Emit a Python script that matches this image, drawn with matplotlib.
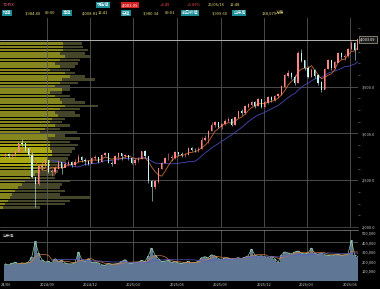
import matplotlib
matplotlib.use('Agg')
import matplotlib.pyplot as plt
import matplotlib.dates as mdates
import matplotlib.transforms as mtrans
from matplotlib.ticker import FixedLocator, MultipleLocator, FuncFormatter
import numpy as np
import pandas as pd

plt.rcParams['font.family'] = ['Noto Sans CJK JP', 'DejaVu Sans']

# ---------------- data (weekly) ----------------
week_start = '2024-06-05'
closes = [2776, 2758, 2764, 2809, 2896, 2894, 2840, 2769, 2537, 2465,
          2645, 2660, 2712, 2589, 2594, 2627, 2690, 2636, 2674, 2692,
          2669, 2692, 2745, 2714, 2704, 2680, 2737, 2746, 2701, 2768,
          2784, 2687, 2679, 2753, 2788, 2758, 2765, 2735, 2682, 2714,
          2730, 2806, 2758, 2490, 2427, 2486, 2627, 2686, 2740, 2740,
          2741, 2801, 2779, 2770, 2771, 2840, 2825, 2822, 2834, 2927,
          2948, 3025, 3090, 3117, 3074, 3100, 3135, 3149, 3096, 3170,
          3234, 3220, 3287, 3310, 3330, 3300, 3362, 3287, 3330, 3383,
          3360, 3400, 3415, 3500, 3620, 3649, 3606, 3543, 3862, 3780,
          3700, 3606, 3680, 3620, 3543, 3468, 3690, 3787, 3700, 3760,
          3862, 3820, 3830, 3900, 3968, 3894, 4003]
highs = [2795, 2790, 2785, 2815, 2900, 2936, 2895, 2840, 2800, 2480,
         2660, 2695, 2725, 2720, 2615, 2655, 2715, 2685, 2700, 2720,
         2705, 2730, 2780, 2760, 2735, 2720, 2750, 2770, 2750, 2780,
         2805, 2790, 2705, 2770, 2800, 2795, 2780, 2770, 2740, 2740,
         2745, 2815, 2820, 2745, 2500, 2505, 2635, 2695, 2745, 2790,
         2765, 2810, 2805, 2800, 2790, 2850, 2860, 2840, 2855, 2960,
         2980, 3035, 3120, 3135, 3120, 3115, 3150, 3175, 3160, 3180,
         3245, 3260, 3300, 3330, 3350, 3345, 3375, 3370, 3345, 3395,
         3400, 3415, 3435, 3515, 3640, 3680, 3660, 3620, 3880, 3900,
         3790, 3720, 3700, 3690, 3640, 3560, 3700, 3800, 3790, 3775,
         3875, 3870, 3850, 3915, 3985, 3975, 4009]
lows = [2740, 2735, 2725, 2760, 2800, 2870, 2810, 2735, 2520, 2215,
        2450, 2610, 2630, 2575, 2545, 2565, 2620, 2570, 2640, 2655,
        2640, 2655, 2690, 2690, 2665, 2660, 2685, 2720, 2680, 2700,
        2760, 2680, 2650, 2685, 2720, 2720, 2740, 2720, 2670, 2660,
        2690, 2730, 2740, 2470, 2280, 2410, 2470, 2620, 2680, 2720,
        2710, 2730, 2760, 2750, 2750, 2770, 2810, 2800, 2800, 2830,
        2920, 2900, 3030, 3070, 3060, 3050, 3090, 3120, 3080, 3090,
        3160, 3200, 3210, 3270, 3290, 3270, 3290, 3270, 3280, 3320,
        3340, 3350, 3380, 3410, 3500, 3600, 3580, 3520, 3540, 3760,
        3680, 3590, 3600, 3590, 3520, 3440, 3470, 3690, 3680, 3690,
        3760, 3800, 3790, 3820, 3890, 3780, 3890]
first_open = 2770
volumes = [175000, 165000, 180000, 190000, 175000, 185000, 180000, 195000, 250000, 410000,
           290000, 220000, 195000, 200000, 185000, 230000, 200000, 210000, 185000, 175000,
           175000, 190000, 300000, 220000, 200000, 230000, 190000, 195000, 185000, 165000,
           160000, 180000, 170000, 175000, 180000, 200000, 220000, 185000, 180000, 190000,
           195000, 210000, 200000, 260000, 340000, 270000, 230000, 200000, 205000, 210000,
           190000, 200000, 185000, 180000, 190000, 200000, 185000, 190000, 200000, 240000,
           250000, 240000, 270000, 260000, 230000, 220000, 240000, 235000, 225000, 230000,
           240000, 230000, 245000, 260000, 330000, 270000, 255000, 260000, 250000, 240000,
           255000, 230000, 190000, 270000, 300000, 290000, 280000, 300000, 310000, 290000,
           280000, 290000, 340000, 285000, 275000, 290000, 270000, 265000, 260000, 270000,
           275000, 265000, 270000, 280000, 420000, 270000, 250000]

# volume profile (price bins, bright part length, total length in px)
profile_prices = [3960, 3925, 3890, 3855, 3820, 3785, 3750, 3715, 3680, 3645,
                  3610, 3575, 3540, 3505, 3470, 3435, 3400, 3365, 3330, 3295,
                  3260, 3225, 3190, 3155, 3120, 3085, 3050, 3015, 2980, 2945,
                  2910, 2875, 2840, 2805, 2770, 2735, 2700, 2665, 2630, 2595,
                  2560, 2525, 2490, 2455, 2420, 2385, 2350, 2315, 2280, 2245, 2210]
profile_bright = [63, 63, 63, 60, 65, 60, 55, 60, 50, 65,
                  70, 62, 60, 55, 62, 50, 55, 60, 62, 65,
                  60, 55, 58, 52, 50, 55, 45, 40, 55, 48,
                  50, 50, 50, 52, 52, 48, 50, 50, 45, 40,
                  35, 30, 25, 22, 18, 15, 12, 10, 8, 5, 3]
profile_total = [82, 83, 88, 85, 90, 80, 78, 75, 70, 75,
                 85, 95, 78, 70, 70, 62, 70, 75, 85, 98,
                 80, 75, 80, 65, 62, 70, 60, 77, 65, 80,
                 70, 78, 75, 72, 70, 68, 66, 62, 60, 58,
                 55, 55, 70, 62, 60, 65, 60, 90, 70, 65, 40]

quarter_dates = ['2024-06-01', '2024-09-01', '2024-12-01', '2025-03-01', '2025-06-01',
                 '2025-09-01', '2025-12-01', '2026-03-01', '2026-06-01']
quarter_labels = ['24/06', '2024/09', '2024/12', '2025/03', '2025/06',
                  '2025/09', '2025/12', '2026/03', '2026/06']
price_ticks = [2000, 2500, 3000, 3500]
volume_ticks = [100000, 200000, 300000, 400000, 500000]
last_price = 4003.09

# ---------------- figure ----------------
W, H = 380, 289
fig = plt.figure(figsize=(W / 100, H / 100), dpi=100, facecolor='black')

def fx(px):
    return px / W

def fy(py):
    return 1 - py / H

ax = fig.add_axes([0, fy(227), fx(358), fy(18) - fy(227)])
axv = fig.add_axes([0, fy(280.5), fx(358), fy(230) - fy(280.5)], sharex=ax)
ax.patch.set_visible(False)
axv.set_facecolor('black')

dates = pd.date_range(week_start, periods=len(closes), freq='7D')
x = mdates.date2num(dates)
c = np.array(closes, float)
h = np.array(highs, float)
l = np.array(lows, float)
o = np.r_[first_open, c[:-1]]

# volume profile on its own axis in pixel units, behind the price axis
axp = fig.add_axes(ax.get_position(), sharey=ax)
axp.set_zorder(0)
ax.set_zorder(1)
axp.set_facecolor('black')
axp.set_xlim(0, 358)
pp = np.array(profile_prices)
axp.barh(pp, profile_total, height=27, color='#45452a', linewidth=0)
bright_cols = ['#a8a812' if 2640 <= p <= 2880 else '#86861e' for p in profile_prices]
axp.barh(pp, profile_bright, height=27, color=bright_cols, linewidth=0)
axp.axis('off')

xmin = mdates.date2num(pd.Timestamp('2024-05-25'))
xmax = mdates.date2num(pd.Timestamp('2026-06-17'))
ax.set_xlim(xmin, xmax)
ax.set_ylim(2000, 4234)
axv.set_ylim(0, 530000)

grid_col = '#575757'
qx = mdates.date2num(pd.to_datetime(quarter_dates))
for q in qx[1:]:
    ax.axvline(q, color=grid_col, lw=0.6, zorder=0.5)
    axv.axvline(q, color=grid_col, lw=0.6, zorder=0.5)
for p in [2500, 3000, 3500]:
    ax.axhline(p, color=grid_col, lw=0.6, zorder=0.5)
axv.axhline(400000, color=grid_col, lw=0.6, zorder=0.5)

# moving averages
ma_short = pd.Series(c).rolling(5).mean()
ma_long = pd.Series(c).rolling(15).mean()
ax.plot(x, ma_long, color='#4848b8', lw=0.6, zorder=2)
ax.plot(x, ma_short, color='#c86a2c', lw=0.6, zorder=2)

# candles
up = c >= o
col_up, col_dn = '#ff8585', '#c0f6f6'
cols = np.where(up, col_up, col_dn)
ax.vlines(x, l, h, colors=cols, lw=0.4, zorder=3)
ax.bar(x, np.abs(c - o) + 4, bottom=np.minimum(c, o) - 2, width=2.8,
       color=cols, linewidth=0, zorder=3)

# current price line
ax.axhline(last_price, color='#cfcfcf', lw=0.6, zorder=2.5)
tr = mtrans.blended_transform_factory(ax.transAxes, ax.transData)
ax.text(1.006, last_price, '4,003.09', transform=tr, fontsize=2.8, color='white',
        va='center', ha='left',
        bbox=dict(facecolor='#1a1a1a', edgecolor='#d8cfb0', lw=0.4, pad=0.8))

# volume
v = np.array(volumes, float)
axv.bar(x, v, width=7, color='#5f7794', linewidth=0, zorder=1)
axv.plot(x, v, color='#9ee0a0', lw=0.45, zorder=2)
axv.plot(x, pd.Series(v).rolling(5).mean(), color='#d07840', lw=0.5, zorder=2)
axv.plot(x, pd.Series(v).rolling(15).mean(), color='#5a5ac8', lw=0.5, zorder=2)
axv.text(0.008, 0.93, '出来高', transform=axv.transAxes, fontsize=2.8,
         color='#d8d8d8', va='top', ha='left')

# axes styling
for a in (ax, axv):
    for s in a.spines.values():
        s.set_visible(False)
ax.spines['bottom'].set_visible(True)
ax.spines['bottom'].set_color('#5a5a5a')
ax.spines['bottom'].set_linewidth(0.5)
axv.spines['top'].set_visible(True)
axv.spines['top'].set_color('#8a8a8a')
axv.spines['top'].set_linewidth(0.5)

ax.yaxis.tick_right()
ax.yaxis.set_major_locator(FixedLocator(price_ticks))
ax.yaxis.set_minor_locator(MultipleLocator(125))
ax.yaxis.set_major_formatter(FuncFormatter(lambda v_, p_: f'{v_:,.1f}'))
ax.tick_params(axis='y', which='major', length=0, pad=2.5, labelsize=2.8, labelcolor='#d0d0d0')
ax.tick_params(axis='y', which='minor', length=1.5, width=0.4, color='#8a8a8a', right=True, left=False)
ax.tick_params(axis='x', which='both', bottom=False, labelbottom=False)

axv.yaxis.tick_right()
axv.yaxis.set_major_locator(FixedLocator(volume_ticks))
axv.yaxis.set_major_formatter(FuncFormatter(lambda v_, p_: f'{v_:,.0f}'))
axv.tick_params(axis='y', length=0, pad=2.5, labelsize=2.8, labelcolor='#d0d0d0')
axv.set_xticks(qx[1:])
axv.set_xticklabels(quarter_labels[1:])
axv.tick_params(axis='x', length=0, pad=1.2, labelsize=2.8, labelcolor='#d0d0d0')
# first (partly hidden) date label at the very left edge
fig.text(fx(0.5), fy(284.3), quarter_labels[0], fontsize=2.8, color='#d0d0d0',
         ha='left', va='center')

# header
yel = '#e6dc78'
red = '#ff4a4a'
box = dict(facecolor='#1c8d96', edgecolor='none', pad=0.6)

def t(px, py, s, color=yel, bbox=None):
    fig.text(fx(px), fy(py), s, fontsize=3.0, color=color, ha='left', va='center', bbox=bbox)

t(3, 5, 'TOPIX', color='#ff5c8a')
t(97, 5, '現在値', color='white', bbox=box)
t(122, 5, '4,003.09', color='white', bbox=dict(facecolor='#d42020', edgecolor='none', pad=0.6))
t(160, 5, '+3.49', color=red)
t(187, 5, '+0.09%', color=red)
t(208, 5, '26/06/16', color=yel)
t(230, 5, '12:48', color=yel)

t(3, 13, '始値', color='white', bbox=box)
t(25, 13, '3,984.40')
t(45, 13, '09:00')
t(63, 13, '高値', color='white', bbox=box)
t(82, 13, '4,008.81')
t(98, 13, '12:41')
t(122, 13, '安値', color='white', bbox=box)
t(143, 13, '3,980.34')
t(165, 13, '09:01')
t(182, 13, '前日終値', color='white', bbox=box)
t(212, 13, '3,999.60')
t(233, 13, '出来高', color='white', bbox=box)
t(262, 13, '138,079')
t(276, 13, '万株')

fig.savefig('out.png', dpi=100, facecolor='black')
